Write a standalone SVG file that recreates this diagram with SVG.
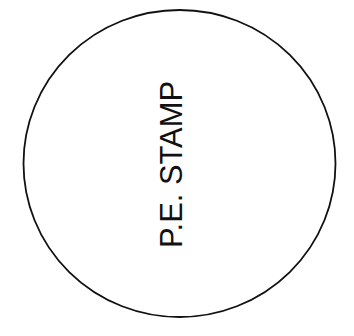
<svg xmlns="http://www.w3.org/2000/svg" width="354" height="336" viewBox="0 0 354 336">
<style>
.outline{fill:none;stroke:#111;stroke-width:1.8}
.label{font-family:"Liberation Sans",Arial,sans-serif;font-size:31px;fill:#111}
</style>
<rect width="354" height="336" fill="#fff"/>
<g id="stamp">
<ellipse class="outline" cx="179.5" cy="163.5" rx="156" ry="153.5"/>
<text class="label" transform="translate(182,164.5) rotate(-90)" x="0" y="0" text-anchor="middle" textLength="167" lengthAdjust="spacingAndGlyphs">P.E. STAMP</text>
</g>
</svg>
